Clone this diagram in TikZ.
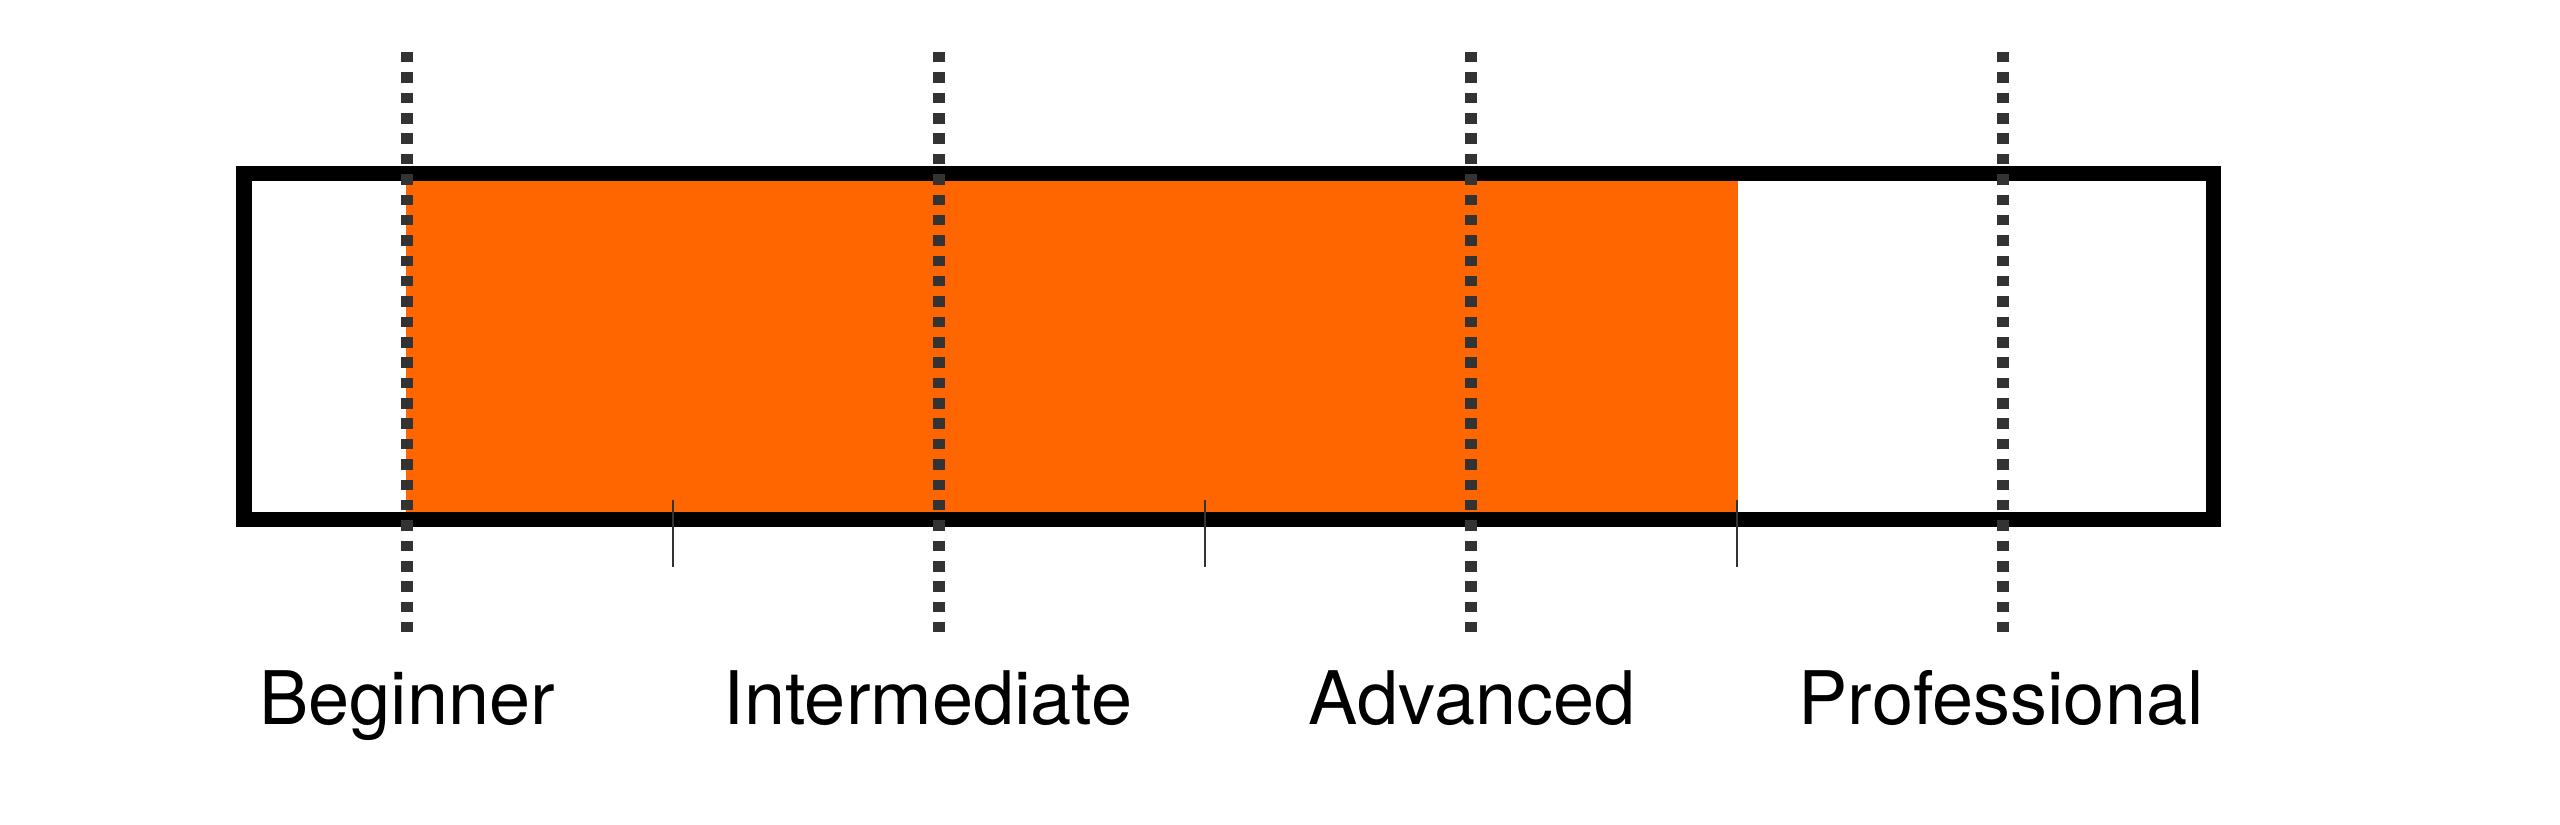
\documentclass[tikz,border=0pt]{standalone}
\usepackage{fontspec}
\setmainfont{TeX Gyre Heros}
\definecolor{barorange}{HTML}{FF6600}
\definecolor{dashgrey}{HTML}{333333}
\begin{document}
\begin{tikzpicture}[x=0.01cm,y=-0.01cm,
  frame/.style={draw=black,line width=0.15cm,miter limit=10},
  fillbar/.style={fill=barorange,draw=none},
  levelline/.style={draw=dashgrey,line width=0.12cm,dash pattern=on 0.105cm off 0.0985cm},
  tickline/.style={draw=dashgrey,line width=0.02cm},
  levellabel/.style={anchor=base,inner sep=0pt,font=\fontsize{21}{25}\selectfont}]
\useasboundingbox[fill=white] (0,0) rectangle (2560,825);
% progress fill
\fill[fillbar] (406,181) rectangle (1738,513);
% frame
\draw[frame] (244,174) rectangle (2213,520);
% ticks
\foreach \x [count=\i] in {672.5,1205,1737}{
  \coordinate (t\i a) at (\x,500);
  \coordinate (t\i b) at (\x,567);
  \draw[tickline] (t\i a) -- (t\i b);
}
% dashed level lines
\foreach \x [count=\i] in {406.5,938.8,1471,2003.3}{
  \coordinate (d\i a) at (\x,52);
  \coordinate (d\i b) at (\x,632.5);
  \draw[levelline] (d\i a) -- (d\i b);
}
% labels
\node[levellabel] (beg) at (407,725) {Beginner};
\node[levellabel] (int) at (928,725) {Intermediate};
\node[levellabel] (adv) at (1472,725) {Advanced};
\node[levellabel] (pro) at (2001,725) {Professional};
\end{tikzpicture}
\end{document}
